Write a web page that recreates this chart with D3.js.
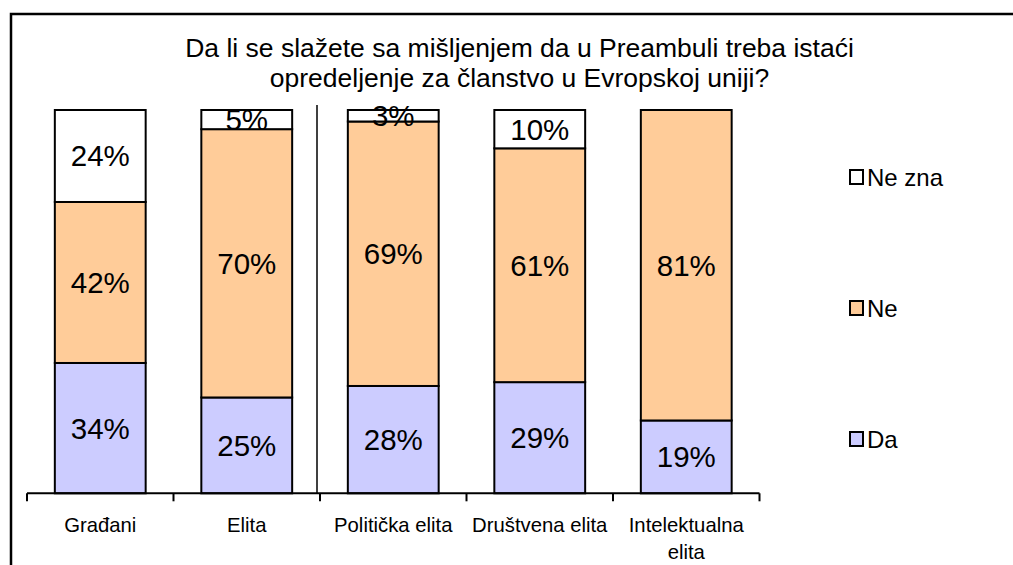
<!DOCTYPE html>
<html>
<head>
<meta charset="utf-8">
<script src="https://cdn.jsdelivr.net/npm/d3@7"></script>
<style>
  body { margin: 0; background: #fff; }
  svg { display: block; font-family: "Liberation Sans", Arial, sans-serif; }
</style>
</head>
<body>
<div id="chart"></div>
<script>
// data
const categories = ['Građani', 'Elita', 'Politička elita', 'Društvena elita', 'Intelektualna elita'];
const categoryLines = [['Građani'], ['Elita'], ['Politička elita'], ['Društvena elita'], ['Intelektualna', 'elita']];
const seriesNames = ['Da', 'Ne', 'Ne zna'];
const daValues = [34, 25, 28, 29, 19];
const neValues = [42, 70, 69, 61, 81];
const neZnaValues = [24, 5, 3, 10, 0];
const titleLines = ['Da li se slažete sa mišljenjem da u Preambuli treba istaći', 'opredeljenje za članstvo u Evropskoj uniji?'];

const colors = { 'Da': '#ccccff', 'Ne': '#ffcc99', 'Ne zna': '#ffffff' };

var W = 1013, H = 565;
var plot = { left: 27, right: 759.5, top: 110, bottom: 493.3 };

var svg = d3.select('#chart').append('svg')
  .attr('width', W)
  .attr('height', H);

// outer frame (top + left only visible)
svg.append('path')
  .attr('d', `M11,${H + 5} L11,14 L${W + 5},14`)
  .attr('fill', 'none')
  .attr('stroke', '#000')
  .attr('stroke-width', 2.5);

// title
svg.append('g').selectAll('text')
  .data(titleLines)
  .join('text')
  .attr('x', 519.5)
  .attr('y', (d, i) => 56.5 + i * 30)
  .attr('text-anchor', 'middle')
  .attr('font-size', 26.5)
  .text(d => d);

var rows = categories.map((c, i) => ({
  cat: c,
  'Da': daValues[i],
  'Ne': neValues[i],
  'Ne zna': neZnaValues[i]
}));

var stacked = d3.stack().keys(seriesNames)(rows);

var x = d3.scaleBand()
  .domain(categories)
  .range([plot.left, plot.right])
  .paddingInner(0.38)
  .paddingOuter(0.19);

var y = d3.scaleLinear()
  .domain([0, 100])
  .range([plot.bottom, plot.top]);

// bars
var layers = svg.append('g').selectAll('g')
  .data(stacked)
  .join('g')
  .attr('fill', d => colors[d.key]);

layers.selectAll('rect')
  .data(d => d.filter(p => p[1] - p[0] > 0))
  .join('rect')
  .attr('x', d => x(d.data.cat))
  .attr('y', d => y(d[1]))
  .attr('width', x.bandwidth())
  .attr('height', d => y(d[0]) - y(d[1]))
  .attr('stroke', '#000')
  .attr('stroke-width', 2);

// value labels
layers.selectAll('text')
  .data(d => d.filter(p => p[1] - p[0] > 0))
  .join('text')
  .attr('x', d => x(d.data.cat) + x.bandwidth() / 2)
  .attr('y', d => (y(d[0]) + y(d[1])) / 2)
  .attr('text-anchor', 'middle')
  .attr('dominant-baseline', 'central')
  .attr('fill', '#000')
  .attr('font-size', 29.5)
  .text(d => (d[1] - d[0]) + '%');

// separator between Elita and the sub-groups
var sepX = x('Politička elita') - x.step() * x.paddingInner() / 2 - 3;
svg.append('line')
  .attr('x1', sepX).attr('x2', sepX)
  .attr('y1', 105).attr('y2', plot.bottom)
  .attr('stroke', '#000')
  .attr('stroke-width', 1.5);

// x axis with ticks between categories
var axis = svg.append('g');
axis.append('line')
  .attr('x1', plot.left).attr('x2', plot.right)
  .attr('y1', plot.bottom).attr('y2', plot.bottom)
  .attr('stroke', '#000')
  .attr('stroke-width', 2);

var tickXs = d3.range(categories.length + 1).map(i => plot.left + i * x.step());
axis.selectAll('line.tick')
  .data(tickXs)
  .join('line')
  .attr('class', 'tick')
  .attr('x1', d => d).attr('x2', d => d)
  .attr('y1', plot.bottom).attr('y2', plot.bottom + 8)
  .attr('stroke', '#000')
  .attr('stroke-width', 2);

axis.selectAll('text')
  .data(categoryLines)
  .join('text')
  .attr('x', (d, i) => x(categories[i]) + x.bandwidth() / 2)
  .attr('y', 531.5)
  .attr('text-anchor', 'middle')
  .attr('font-size', 20.3)
  .selectAll('tspan')
  .data(d => d)
  .join('tspan')
  .attr('x', function() { return this.parentNode.getAttribute('x'); })
  .attr('dy', (d, i) => i === 0 ? 0 : 27)
  .text(d => d);

// legend
var legendItems = seriesNames.slice().reverse();
var legend = svg.append('g').selectAll('g')
  .data(legendItems)
  .join('g')
  .attr('transform', (d, i) => `translate(850,${177 + i * 131})`);

legend.append('rect')
  .attr('x', 0).attr('y', -7)
  .attr('width', 13).attr('height', 14)
  .attr('fill', d => colors[d])
  .attr('stroke', '#000')
  .attr('stroke-width', 2);

legend.append('text')
  .attr('x', 17)
  .attr('y', 0)
  .attr('dominant-baseline', 'central')
  .attr('font-size', 24)
  .text(d => d);
</script>
</body>
</html>
